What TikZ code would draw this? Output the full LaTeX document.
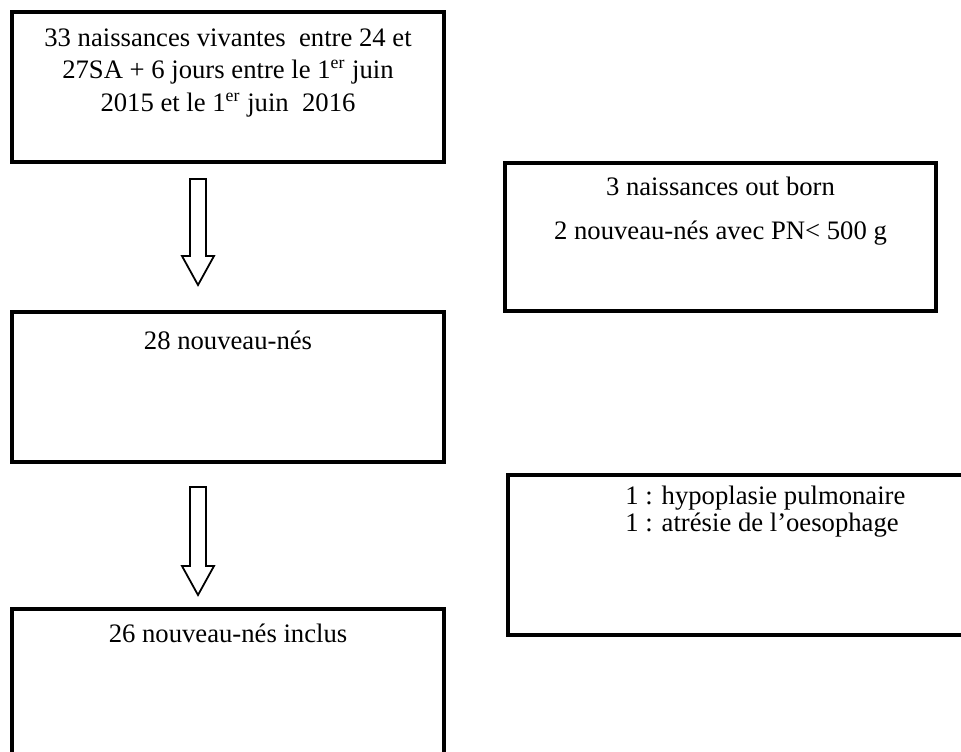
\documentclass[tikz,border=0pt]{standalone}
\usepackage{fontspec}
\setmainfont{Liberation Serif}
\usetikzlibrary{calc}

\tikzset{
  flowbox/.style={draw, line width=1.8pt, inner sep=0pt,
    minimum width=194.4pt, minimum height=67.5pt},
  boxtext/.style={inner sep=0pt, anchor=north, align=center,
    font=\fontsize{12}{14.6}\selectfont},
  blockarrow/.style={draw, line width=0.8pt, line join=miter}
}

\begin{document}
\begin{tikzpicture}[x=0.45pt, y=-0.45pt]
  \useasboundingbox (0,0) rectangle (961,751);
  \clip (0,0) rectangle (961,751);
  \node[flowbox] (b1) at (228,87) {};
  \node[flowbox] (b2) at (228,387) {};
  \node[flowbox, minimum height=85.95pt] (b3) at (228,704.5) {};
  \node[flowbox, minimum width=193.95pt, minimum height=66.6pt] (r1) at (720.5,237) {};
  \node[flowbox, minimum width=216.9pt, minimum height=72pt] (r2) at (749,555) {};

  \node[boxtext] (t1) at ($(b1.north)+(0,18)$)
  {33 naissances vivantes~ entre 24 et\\
   27SA + 6 jours entre le 1\textsuperscript{er} juin\\
   2015 et le 1\textsuperscript{er} juin~ 2016};
  \node[boxtext] (t2) at ($(b2.north)+(0,20)$) {28 nouveau-nés};
  \node[boxtext] (t3) at ($(b3.north)+(0,16)$) {26 nouveau-nés inclus};
  \node[boxtext] (tr1) at ($(r1.north)+(0,16)$)
  {3 naissances out born\\[5pt] 2 nouveau-nés avec PN< 500 g};
  \node[boxtext, anchor=north west, align=left, font=\fontsize{12}{12}\selectfont]
  (tr2) at ($(r2.north west)+(119,13)$)
  {1 : hypoplasie pulmonaire\\ 1 : atrésie de l’oesophage};

  \coordinate (a1top) at ($(b1.south)+(-30,15)$);
  \coordinate (a1tip) at ($(b2.north)+(-30,-25)$);
  \coordinate (a2top) at ($(b2.south)+(-30,23)$);
  \coordinate (a2tip) at ($(b3.north)+(-30,-12)$);
  \draw[blockarrow] ($(a1top)+(-8,0)$) -- ($(a1tip)+(-8,-29)$) -- ++(-8,0)
    -- (a1tip) -- ($(a1tip)+(16,-29)$) -- ++(-8,0) -- ($(a1top)+(8,0)$) -- cycle;
  \draw[blockarrow] ($(a2top)+(-8,0)$) -- ($(a2tip)+(-8,-29)$) -- ++(-8,0)
    -- (a2tip) -- ($(a2tip)+(16,-29)$) -- ++(-8,0) -- ($(a2top)+(8,0)$) -- cycle;
\end{tikzpicture}
\end{document}
